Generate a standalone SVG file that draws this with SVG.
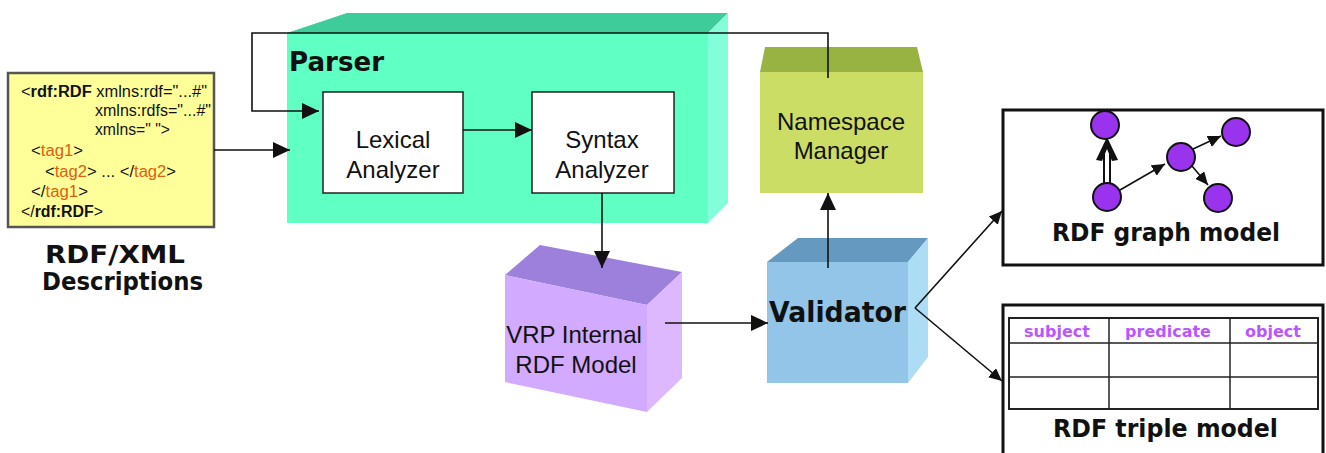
<svg xmlns="http://www.w3.org/2000/svg" width="1326" height="453" viewBox="0 0 1326 453">
<style>
.lbl{font-family:"Liberation Sans",Arial,sans-serif;font-size:24px;fill:#111}
.bold{font-family:"DejaVu Sans",Verdana,sans-serif;font-weight:bold;fill:#111}
.xml{font-family:"Liberation Sans",Arial,sans-serif;font-size:16px;fill:#111}
.tag{fill:#e0600f}
.b{font-weight:bold}
.hdr{font-family:"DejaVu Sans",Verdana,sans-serif;font-weight:bold;font-size:16px;fill:#bb55ff}
.line{stroke:#111;stroke-width:1.6;fill:none}
.node{fill:#9933ee;stroke:#111;stroke-width:2}
</style>
<defs>
<marker id="ah" markerUnits="userSpaceOnUse" markerWidth="18" markerHeight="16" refX="17" refY="8" orient="auto">
<path d="M0,0 L17,8 L0,16 z" fill="#111"/>
</marker>
<marker id="ahs" markerUnits="userSpaceOnUse" markerWidth="14" markerHeight="12" refX="13" refY="6" orient="auto">
<path d="M0,0 L13,6 L0,12 z" fill="#111"/>
</marker>
</defs>

<g id="rdfxml">
<rect x="8" y="73" width="206" height="154" fill="#ffff99" stroke="#555" stroke-width="2.5"/>
<text class="xml" x="21" y="97" textLength="186" lengthAdjust="spacingAndGlyphs">&lt;<tspan class="b">rdf:RDF</tspan> xmlns:rdf="...#"</text>
<text class="xml" x="95" y="116" textLength="116" lengthAdjust="spacingAndGlyphs">xmlns:rdfs="...#"</text>
<text class="xml" x="95" y="135" textLength="75" lengthAdjust="spacingAndGlyphs">xmlns=" "&gt;</text>
<text class="xml" x="31" y="156" textLength="52" lengthAdjust="spacingAndGlyphs">&lt;<tspan class="tag">tag1</tspan>&gt;</text>
<text class="xml" x="45" y="177" textLength="131" lengthAdjust="spacingAndGlyphs">&lt;<tspan class="tag">tag2</tspan>&gt; ... &lt;/<tspan class="tag">tag2</tspan>&gt;</text>
<text class="xml" x="31" y="197" textLength="57" lengthAdjust="spacingAndGlyphs">&lt;/<tspan class="tag">tag1</tspan>&gt;</text>
<text class="xml" x="21" y="217" textLength="82" lengthAdjust="spacingAndGlyphs">&lt;/<tspan class="b">rdf:RDF</tspan>&gt;</text>
<text class="bold" x="45" y="263" font-size="24" textLength="140" lengthAdjust="spacingAndGlyphs">RDF/XML</text>
<text class="bold" x="42" y="290" font-size="24" textLength="161" lengthAdjust="spacingAndGlyphs">Descriptions</text>
</g>

<g id="parser">
<polygon points="287,33 347,13 728,13 708,33" fill="#3dcc9a"/>
<polygon points="708,33 728,13 728,203 708,223" fill="#82ffd8"/>
<rect x="287" y="33" width="421" height="190" fill="#60ffc4"/>
<text class="bold" x="289" y="71" font-size="27" textLength="95" lengthAdjust="spacingAndGlyphs">Parser</text>
</g>

<g id="lexical">
<rect x="323" y="92" width="140" height="101" fill="#fff" stroke="#222" stroke-width="1.5"/>
<text class="lbl" x="393" y="148" text-anchor="middle">Lexical</text>
<text class="lbl" x="393" y="178" text-anchor="middle">Analyzer</text>
</g>

<g id="syntax">
<rect x="532" y="92" width="142" height="101" fill="#fff" stroke="#222" stroke-width="1.5"/>
<text class="lbl" x="602" y="148" text-anchor="middle">Syntax</text>
<text class="lbl" x="602" y="178" text-anchor="middle">Analyzer</text>
</g>

<g id="namespace">
<polygon points="760,72 765,47 917,47 923,72" fill="#99b343"/>
<rect x="760" y="72" width="163" height="121" fill="#ccdd66"/>
<text class="lbl" x="841" y="130" text-anchor="middle">Namespace</text>
<text class="lbl" x="841" y="159" text-anchor="middle">Manager</text>
</g>

<g id="vrp">
<polygon points="505,275 540,245 682,272 647,305" fill="#9d80dc"/>
<polygon points="647,305 682,272 682,378 647,412" fill="#ddb8ff"/>
<polygon points="505,275 647,305 647,412 505,382" fill="#d2aaff"/>
<text class="lbl" x="574" y="343" text-anchor="middle">VRP Internal</text>
<text class="lbl" x="576" y="373" text-anchor="middle">RDF Model</text>
</g>

<g id="validator">
<polygon points="767,262 798,238 928,238 908,262" fill="#6699c0"/>
<polygon points="908,262 928,238 928,357 908,383" fill="#addcf5"/>
<rect x="767" y="262" width="141" height="121" fill="#92c5e8"/>
<text class="bold" x="769" y="322" font-size="28" textLength="137" lengthAdjust="spacingAndGlyphs">Validator</text>
</g>

<g id="graphmodel">
<rect x="1003" y="110" width="320" height="155" fill="#fff" stroke="#111" stroke-width="3"/>
<line x1="1104" y1="184" x2="1104" y2="145" stroke="#111" stroke-width="2"/>
<line x1="1110" y1="184" x2="1110" y2="145" stroke="#111" stroke-width="2"/>
<polygon points="1107,137 1118,160 1112,161 1107,149 1102,161 1096,160" fill="#111"/>
<line class="line" x1="1120" y1="190" x2="1165" y2="164" marker-end="url(#ahs)"/>
<line class="line" x1="1193" y1="149" x2="1221" y2="136" marker-end="url(#ahs)"/>
<line class="line" x1="1192" y1="166" x2="1208" y2="185" marker-end="url(#ahs)"/>
<circle class="node" cx="1105" cy="125" r="14"/>
<circle class="node" cx="1107" cy="197" r="14"/>
<circle class="node" cx="1181" cy="157" r="14"/>
<circle class="node" cx="1236" cy="132" r="14"/>
<circle class="node" cx="1218" cy="198" r="14"/>
<text class="bold" x="1052" y="241" font-size="25" textLength="228" lengthAdjust="spacingAndGlyphs">RDF graph model</text>
</g>

<g id="triplemodel">
<rect x="1003" y="305" width="320" height="160" fill="#fff" stroke="#111" stroke-width="3"/>
<g stroke="#222" stroke-width="1.5">
<rect x="1009" y="318" width="309" height="91" fill="none" stroke-width="2"/>
<line x1="1009" y1="343" x2="1318" y2="343"/>
<line x1="1009" y1="377" x2="1318" y2="377"/>
<line x1="1109" y1="318" x2="1109" y2="409"/>
<line x1="1230" y1="318" x2="1230" y2="409"/>
</g>
<text class="hdr" x="1057" y="337" text-anchor="middle">subject</text>
<text class="hdr" x="1168" y="337" text-anchor="middle">predicate</text>
<text class="hdr" x="1273" y="337" text-anchor="middle">object</text>
<text class="bold" x="1053" y="437" font-size="25" textLength="225" lengthAdjust="spacingAndGlyphs">RDF triple model</text>
</g>

<g id="connectors">
<line class="line" x1="214" y1="150" x2="290" y2="150" marker-end="url(#ah)"/>
<polyline class="line" points="828,78 828,33 252,33 252,111 319,111" marker-end="url(#ah)"/>
<line class="line" x1="463" y1="130" x2="532" y2="130" marker-end="url(#ah)"/>
<line class="line" x1="602" y1="193" x2="602" y2="268" marker-end="url(#ah)"/>
<line class="line" x1="665" y1="323" x2="768" y2="323" marker-end="url(#ah)"/>
<line class="line" x1="828" y1="268" x2="828" y2="193" marker-end="url(#ah)"/>
<line class="line" x1="915" y1="308" x2="1002" y2="211" marker-end="url(#ahs)"/>
<line class="line" x1="915" y1="308" x2="1002" y2="381" marker-end="url(#ahs)"/>
</g>
</svg>
